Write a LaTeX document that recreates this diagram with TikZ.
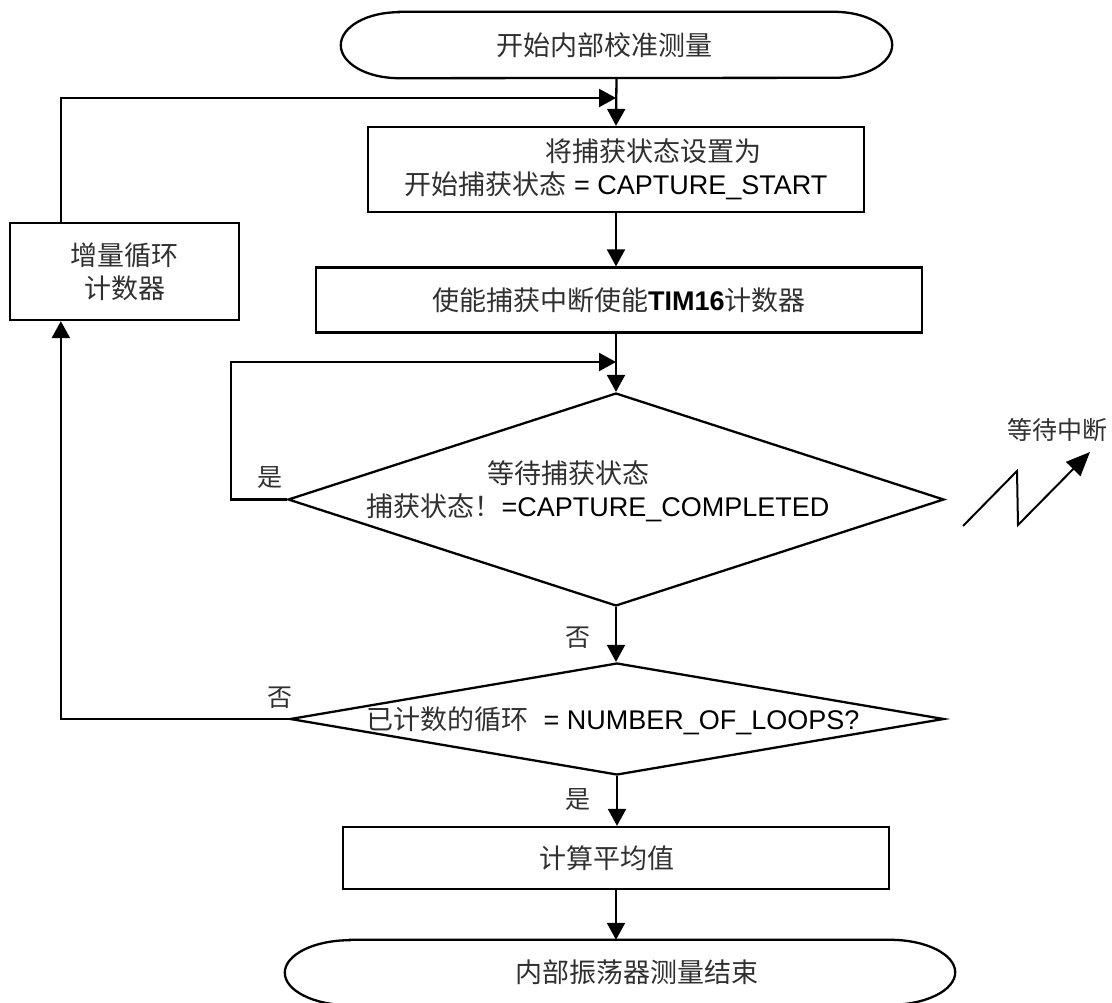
\documentclass[tikz,border=0pt]{standalone}
\usepackage{fontspec}
\setmainfont{Liberation Sans}
\newfontfamily\cjk{Noto Sans CJK SC}
\usetikzlibrary{arrows.meta,shapes.geometric}
\definecolor{zhcol}{HTML}{303030}
\newcommand\zh[1]{{\cjk\color{zhcol}#1}}
\begin{document}
\begin{tikzpicture}[x=1pt,y=-1pt,
  line/.style={line width=2.3pt},
  arr/.style={line width=2.3pt,-{Triangle[length=17pt,width=18pt]}},
  txt/.style={font=\fontsize{27}{33}\selectfont, align=center, inner sep=0pt},
  box/.style={draw, line width=2.3pt, rectangle, inner sep=0pt, font=\fontsize{27}{33}\selectfont, align=center},
  term/.style={rectangle, inner sep=0pt, font=\fontsize{27}{33}\selectfont, align=center},
  dia/.style={draw, line width=2.3pt, diamond, inner sep=0pt},
  lbl/.style={font=\fontsize{25}{30}\selectfont, inner sep=0pt}]
\useasboundingbox (0,0) rectangle (1112,1003);

% start terminal
\node[term, minimum width=551pt, minimum height=66pt] (start) at (616.5,45) {\zh{开始内部校准测量}\hspace*{24pt}};
\draw[line] ([xshift=58pt]start.north west) -- ([xshift=-58pt]start.north east)
  arc[start angle=90,end angle=-90,x radius=58pt,y radius=33pt]
  -- ([xshift=58pt]start.south west)
  arc[start angle=270,end angle=90,x radius=58pt,y radius=33pt] -- cycle;

% box 1
\node[box, minimum width=496pt, minimum height=85pt] (box1) at (616,169.5)
  {\hspace*{74pt}\zh{将捕获状态设置为}\\\zh{开始捕获状态} = CAPTURE\_START};

% box 2
\node[box, minimum width=606pt, minimum height=65pt] (box2) at (619,300)
  {\zh{使能捕获中断使能}\textbf{TIM16}\zh{计数器}};

% diamond 1
\node[dia, minimum width=656pt, minimum height=213pt] (d1) at (616,499.5) {};
\node[txt] (d1t) at (598,491) {\zh{等待捕获状态}\hspace*{60pt}\\\zh{捕获状态！}=CAPTURE\_COMPLETED};

% diamond 2
\node[dia, minimum width=654pt, minimum height=112pt] (d2) at (617,719) {};
\node[txt] (d2t) at (613,721) {\zh{已计数的循环}\ \ = NUMBER\_OF\_LOOPS?};

% increment box
\node[box, minimum width=229pt, minimum height=97pt] (incr) at (124.5,271.5)
  {\zh{增量循环}\\\zh{计数器}};

% box 3
\node[box, minimum width=546pt, minimum height=62pt] (box3) at (616,858)
  {\zh{计算平均值}\hspace*{18pt}};

% end terminal
\node[term, minimum width=670pt, minimum height=65pt] (endo) at (620,972.5) {\hspace*{34pt}\zh{内部振荡器测量结束}};
\draw[line] ([xshift=65pt]endo.north west) -- ([xshift=-65pt]endo.north east)
  arc[start angle=90,end angle=-90,x radius=65pt,y radius=32.5pt]
  -- ([xshift=65pt]endo.south west)
  arc[start angle=270,end angle=90,x radius=65pt,y radius=32.5pt] -- cycle;

% merge points
\coordinate (m1) at (616,98);
\coordinate (m2) at (616,362);

% main flow
\draw[arr] (start.south) -- (box1.north);
\draw[arr] (box1.south) -- (box1.south |- box2.north);
\draw[arr] (box2.south -| d1.north) -- (d1.north);
\draw[arr] (d1.south) -- (d1.south |- d2.north);
\draw[arr] (d2.south) -- (d2.south |- box3.north);
\draw[arr] (box3.south) -- (box3.south |- endo.north);

% loops
\draw[arr] ([xshift=52pt]incr.north west) |- (m1);
\draw[arr] (d1.west) -- ++(-56,0) |- (m2);
\draw[arr] (d2.west) -| ([xshift=52pt]incr.south west);

% labels
\node[lbl] (l1) at (270,478) {\zh{是}};
\node[lbl] (l2) at (578,638) {\zh{否}};
\node[lbl] (l3) at (280,698) {\zh{否}};
\node[lbl] (l4) at (578,800) {\zh{是}};

% interrupt symbol
\coordinate (z0) at (963,526);
\draw[line width=2pt,-{Triangle[length=24pt,width=20pt]}] (z0) -- (1017,471) -- (1018,525) -- (1090,452);
\node[lbl] (intr) at (1057,430) {\zh{等待中断}};
\end{tikzpicture}
\end{document}
